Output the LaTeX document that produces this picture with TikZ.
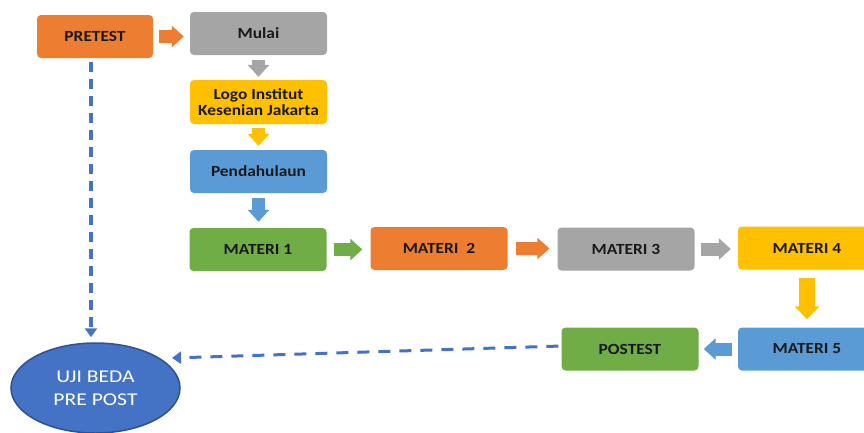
\documentclass[tikz,border=0pt]{standalone}
\usepackage{fontspec}
\setmainfont{Carlito}
\newfontfamily\boxfont[FakeStretch=1.12]{Carlito}
\newfontfamily\ujifont[FakeStretch=1.2]{Carlito}
\usetikzlibrary{arrows.meta,shapes.geometric,calc}
\definecolor{orangeC}{HTML}{ED7D31}
\definecolor{grayC}{HTML}{A5A5A5}
\definecolor{yellowC}{HTML}{FFC000}
\definecolor{blueC}{HTML}{5B9BD5}
\definecolor{greenC}{HTML}{70AD47}
\definecolor{ujiC}{HTML}{4472C4}
\definecolor{ujiB}{HTML}{2F528F}
\tikzset{
  box/.style={rounded corners=4pt, minimum width=137pt, minimum height=43pt, inner sep=0pt,
    font=\boxfont\bfseries\fontsize{15.5}{16.5}\selectfont, align=center, text=black!90},
  barrow/.style={line width=13pt, -{Triangle[width=21pt,length=12pt]}},
  bigarrow/.style={line width=16pt, -{Triangle[width=24pt,length=13pt]}},
  dashline/.style={ujiC, line width=3.5pt, -{Triangle[width=12pt,length=9pt]}}
}
\begin{document}
\begin{tikzpicture}[x=1pt,y=-1pt]
\useasboundingbox (0,0) rectangle (864,432);
\clip (0,0) rectangle (864,432);
\node[box, fill=orangeC, minimum width=116pt] (pre) at (95,36.5) {PRETEST};
\node[box, fill=grayC] (mulai) at (258.5,33.5) {Mulai};
\node[box, fill=yellowC, minimum height=44pt] (logo) at (258.5,102) {Logo Institut\\Kesenian Jakarta};
\node[box, fill=blueC] (pend) at (258.5,171.5) {Pendahulaun};
\node[box, fill=greenC] (m1) at (258,249.5) {MATERI 1};
\node[box, fill=orangeC] (m2) at (439,248.5) {MATERI\ \ 2};
\node[box, fill=grayC] (m3) at (626,249) {MATERI 3};
\node[box, fill=yellowC, minimum width=138pt] (m4) at (807,248) {MATERI 4};
\node[box, fill=blueC, minimum width=138pt] (m5) at (807,349) {MATERI 5};
\node[box, fill=greenC] (post) at (630,349) {POSTEST};
\node[ellipse, fill=ujiC, draw=ujiB, line width=1.5pt, minimum width=169pt, minimum height=90pt,
  inner sep=0pt, align=center, text=white, font=\ujifont\fontsize{18}{23}\selectfont] (uji) at (95.5,388) {UJI BEDA\\PRE POST};

\draw[barrow, orangeC, shorten <=6pt, shorten >=6pt] (pre.east) -- (pre.east -| mulai.west);
\draw[barrow, grayC, shorten <=5pt, shorten >=3pt] (mulai) -- (logo);
\draw[barrow, yellowC, shorten <=4pt, shorten >=4pt] (logo) -- (pend);
\draw[barrow, blueC, shorten <=5pt, shorten >=6pt] (pend.south) -- (pend.south |- m1.north);
\draw[barrow, greenC, shorten <=7pt, shorten >=8pt] (m1.east) -- (m1.east -| m2.west);
\draw[barrow, orangeC, shorten <=8pt, shorten >=8pt] (m2.east) -- (m2.east -| m3.west);
\draw[barrow, grayC, shorten <=6pt, shorten >=7pt] (m3.east) -- (m3.east -| m4.west);
\draw[bigarrow, yellowC, shorten <=8pt, shorten >=8pt] (m4) -- (m5);
\draw[barrow, blueC, shorten <=6pt, shorten >=5pt] (m5.west) -- (m5.west -| post.east);

\draw[dashline, dash pattern=on 10pt off 7pt, shorten <=4pt, shorten >=5pt] ([xshift=-4pt]pre.south) -- ([xshift=-4pt]pre.south |- uji.north);
\coordinate (ujiin) at (172,358);
\draw[dashline, line width=3pt, dash pattern=on 12pt off 9pt, shorten <=3pt] ([yshift=3pt]post.west) -- (ujiin);
\end{tikzpicture}
\end{document}
